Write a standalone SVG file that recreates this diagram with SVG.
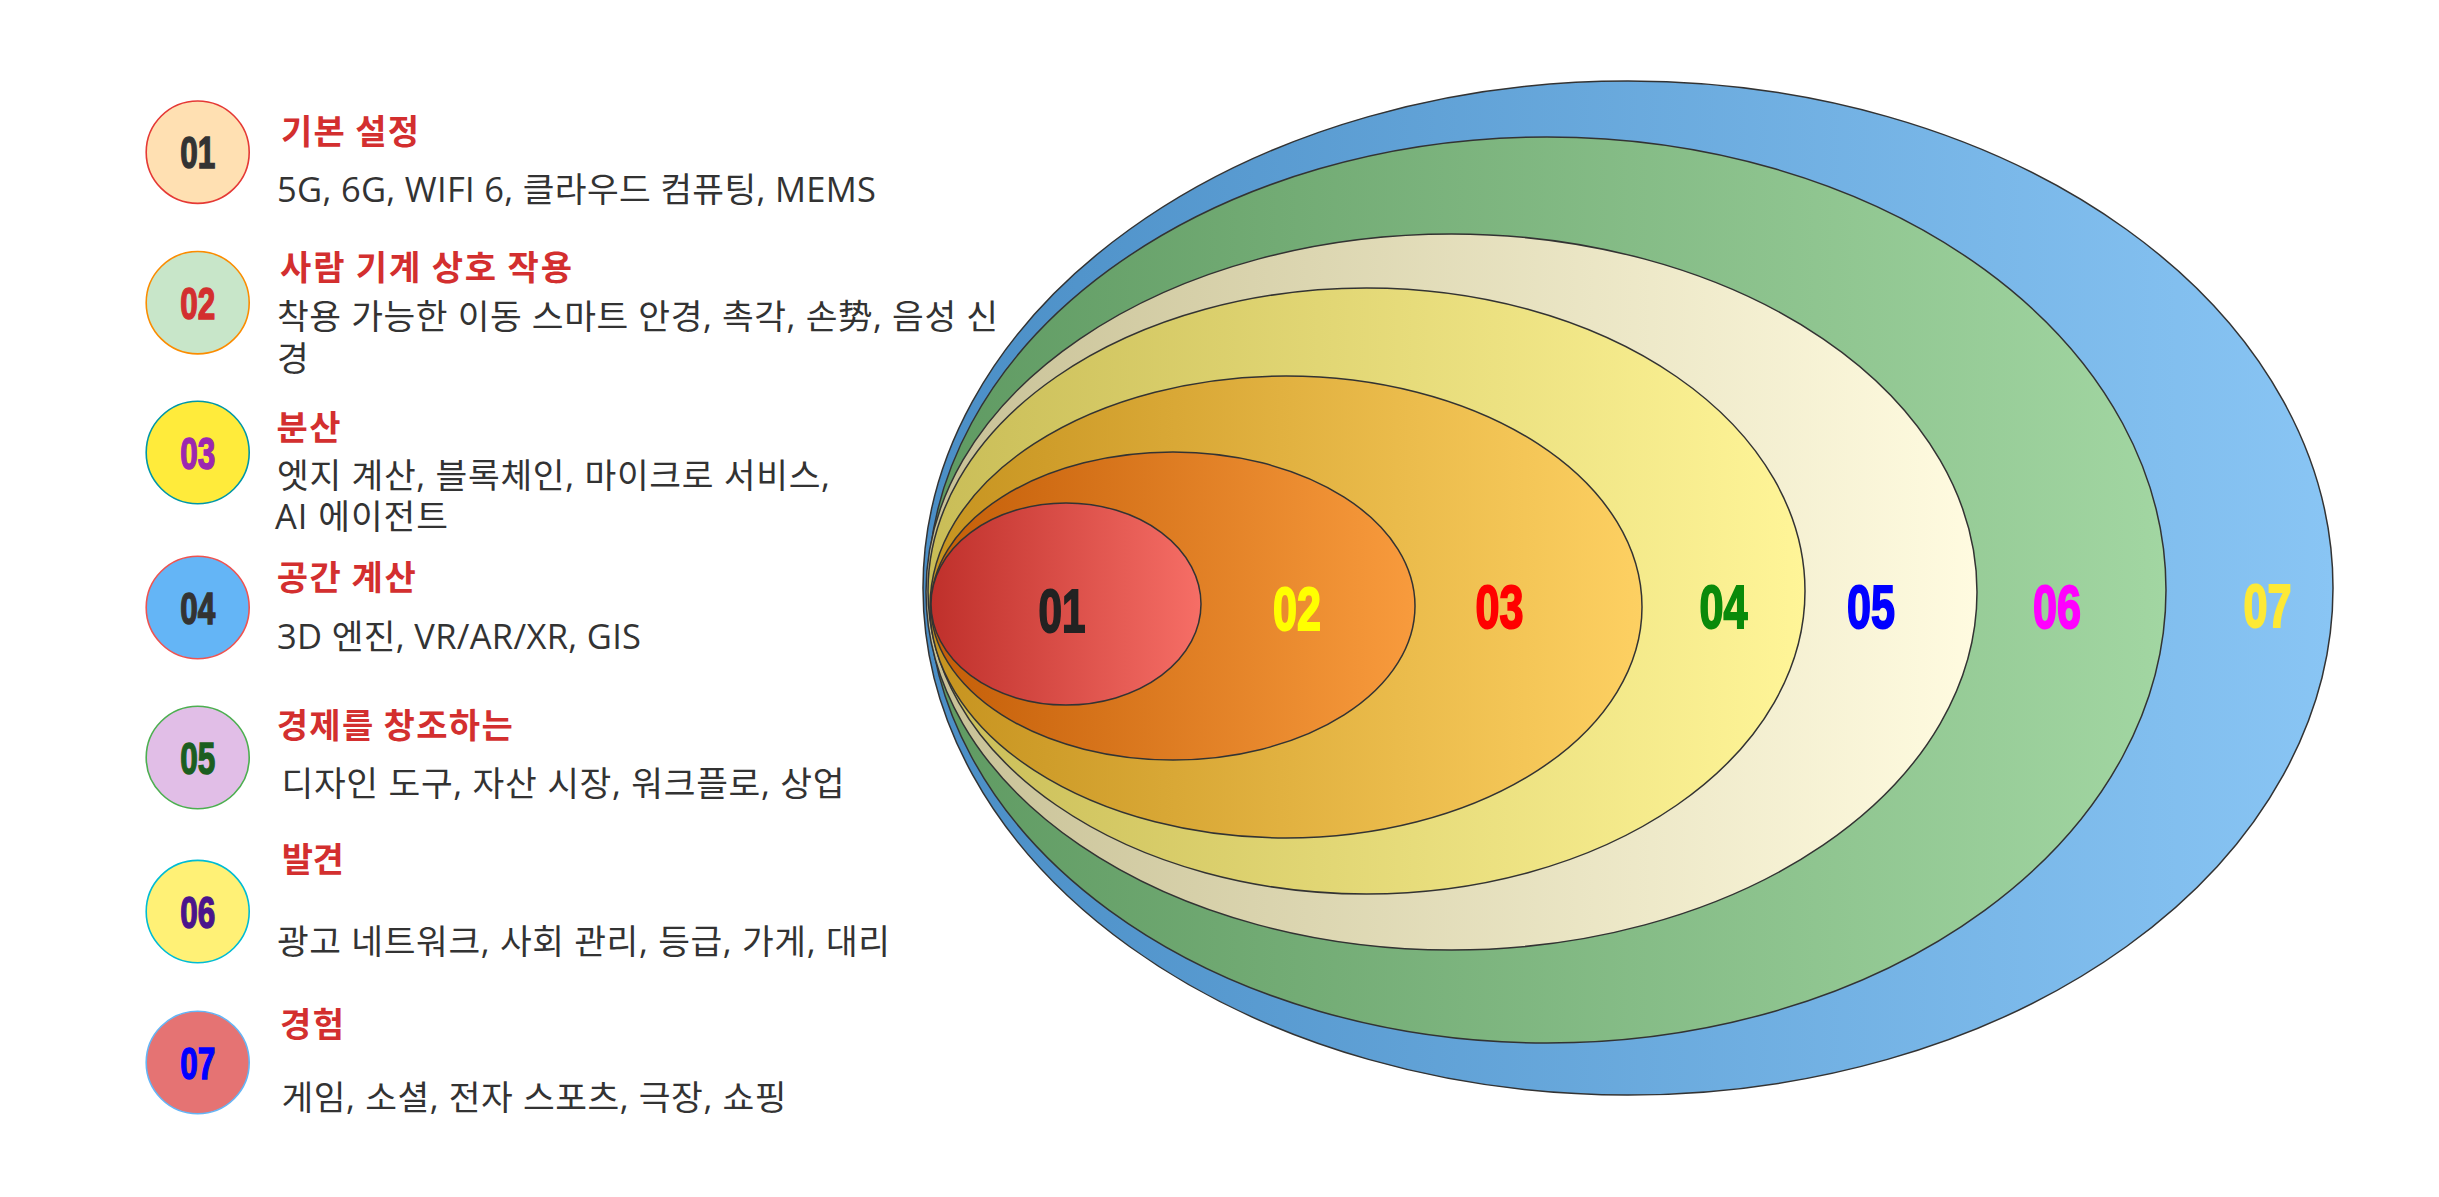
<svg xmlns="http://www.w3.org/2000/svg" width="2439" height="1197" viewBox="0 0 2439 1197">
<defs>
<linearGradient id="g7" x1="0" y1="0" x2="1" y2="0"><stop offset="0" stop-color="#4a8ec6"/><stop offset="1" stop-color="#89c5f4"/></linearGradient>
<linearGradient id="g6" x1="0" y1="0" x2="1" y2="0"><stop offset="0" stop-color="#5f9a62"/><stop offset="1" stop-color="#a2d6a2"/></linearGradient>
<linearGradient id="g5" x1="0" y1="0" x2="1" y2="0"><stop offset="0" stop-color="#c8c196"/><stop offset="1" stop-color="#fffbe0"/></linearGradient>
<linearGradient id="g4" x1="0" y1="0" x2="1" y2="0"><stop offset="0" stop-color="#c9bd57"/><stop offset="1" stop-color="#fff598"/></linearGradient>
<linearGradient id="g3" x1="0" y1="0" x2="1" y2="0"><stop offset="0" stop-color="#c6931f"/><stop offset="1" stop-color="#fdd062"/></linearGradient>
<linearGradient id="g2" x1="0" y1="0" x2="1" y2="0"><stop offset="0" stop-color="#c45e08"/><stop offset="1" stop-color="#f89b3d"/></linearGradient>
<linearGradient id="g1" x1="0" y1="0" x2="1" y2="0"><stop offset="0" stop-color="#bf302b"/><stop offset="1" stop-color="#f66e66"/></linearGradient>
</defs>
<style>
.ring{stroke:#333;stroke-width:1.5}
.dot{stroke-width:1.6}
.num{font-family:"Liberation Sans",Arial,sans-serif;font-weight:bold;font-size:45px;text-anchor:middle}
.big{font-family:"Liberation Sans",Arial,sans-serif;font-weight:bold;font-size:61px;text-anchor:middle}
.title{font-family:"Noto Sans CJK KR",sans-serif;font-weight:bold;font-size:34px;fill:#d32f2f}
.body{font-family:"Open Sans","Noto Sans CJK KR",sans-serif;font-size:34.5px;fill:#333}
</style>
<rect width="2439" height="1197" fill="#ffffff"/>

<g id="rings">
<g id="ring7"><ellipse class="ring" cx="1628" cy="588" rx="705" ry="507" fill="url(#g7)"/></g>
<g id="ring6"><ellipse class="ring" cx="1547" cy="590" rx="619" ry="453" fill="url(#g6)"/></g>
<g id="ring5"><ellipse class="ring" cx="1451.5" cy="592" rx="525.5" ry="358" fill="url(#g5)"/></g>
<g id="ring4"><ellipse class="ring" cx="1366.5" cy="591" rx="438.5" ry="303" fill="url(#g4)"/></g>
<g id="ring3"><ellipse class="ring" cx="1286" cy="607" rx="356" ry="231" fill="url(#g3)"/></g>
<g id="ring2"><ellipse class="ring" cx="1173" cy="606" rx="242" ry="154" fill="url(#g2)"/></g>
<g id="ring1"><ellipse class="ring" cx="1066" cy="604" rx="135" ry="101" fill="url(#g1)"/></g>
</g>

<g id="ring-labels">
<text class="big" x="1062" y="632" textLength="47" lengthAdjust="spacingAndGlyphs" fill="#222" stroke="#222" stroke-width="2">01</text>
<text class="big" x="1297" y="630" textLength="48" lengthAdjust="spacingAndGlyphs" fill="#ffff00" stroke="#ffff00" stroke-width="2">02</text>
<text class="big" x="1499.5" y="628" textLength="48" lengthAdjust="spacingAndGlyphs" fill="#ff0000" stroke="#ff0000" stroke-width="2">03</text>
<text class="big" x="1723.5" y="628" textLength="48" lengthAdjust="spacingAndGlyphs" fill="#0a8a0a" stroke="#0a8a0a" stroke-width="2">04</text>
<text class="big" x="1871" y="628" textLength="48" lengthAdjust="spacingAndGlyphs" fill="#0000ff" stroke="#0000ff" stroke-width="2">05</text>
<text class="big" x="2057" y="628" textLength="48" lengthAdjust="spacingAndGlyphs" fill="#ff00ff" stroke="#ff00ff" stroke-width="2">06</text>
<text class="big" x="2267.5" y="627" textLength="48" lengthAdjust="spacingAndGlyphs" fill="#fde936" stroke="#fde936" stroke-width="2">07</text>
</g>

<g id="item1">
<ellipse class="dot" cx="197.7" cy="152.2" rx="51.5" ry="51.2" fill="#ffe0b2" stroke="#e53935"/>
<text class="num" x="197.7" y="168.3" textLength="35" lengthAdjust="spacingAndGlyphs" fill="#333" stroke="#333" stroke-width="1.5">01</text>
<text class="title" x="281" y="144" textLength="138" lengthAdjust="spacing">기본 설정</text>
<text class="body" x="277" y="202" textLength="599" lengthAdjust="spacing">5G, 6G, WIFI 6, 클라우드 컴퓨팅, MEMS</text>
</g>

<g id="item2">
<ellipse class="dot" cx="197.7" cy="302.7" rx="51.5" ry="51.2" fill="#c8e6c9" stroke="#fb8c00"/>
<text class="num" x="197.7" y="318.8" textLength="35" lengthAdjust="spacingAndGlyphs" fill="#d32f2f" stroke="#d32f2f" stroke-width="1.5">02</text>
<text class="title" x="280" y="279.5" textLength="292" lengthAdjust="spacing">사람 기계 상호 작용</text>
<text class="body" x="277" y="329" textLength="721" lengthAdjust="spacing">착용 가능한 이동 스마트 안경, 촉각, 손势, 음성 신</text>
<text class="body" x="277" y="371">경</text>
</g>

<g id="item3">
<ellipse class="dot" cx="197.7" cy="452.5" rx="51.5" ry="51.2" fill="#ffeb3b" stroke="#0097a7"/>
<text class="num" x="197.7" y="468.6" textLength="35" lengthAdjust="spacingAndGlyphs" fill="#9c27b0" stroke="#9c27b0" stroke-width="1.5">03</text>
<text class="title" x="276.5" y="439.5" textLength="64" lengthAdjust="spacing">분산</text>
<text class="body" x="277" y="488" textLength="553" lengthAdjust="spacing">엣지 계산, 블록체인, 마이크로 서비스,</text>
<text class="body" x="275" y="529" textLength="173" lengthAdjust="spacing">AI 에이전트</text>
</g>

<g id="item4">
<ellipse class="dot" cx="197.7" cy="607.5" rx="51.5" ry="51.2" fill="#64b5f6" stroke="#ef5350"/>
<text class="num" x="197.7" y="623.6" textLength="35" lengthAdjust="spacingAndGlyphs" fill="#333" stroke="#333" stroke-width="1.5">04</text>
<text class="title" x="276.7" y="589.5" textLength="139" lengthAdjust="spacing">공간 계산</text>
<text class="body" x="277" y="649" textLength="364" lengthAdjust="spacing">3D 엔진, VR/AR/XR, GIS</text>
</g>

<g id="item5">
<ellipse class="dot" cx="197.7" cy="757.5" rx="51.5" ry="51.2" fill="#e1bee7" stroke="#4caf50"/>
<text class="num" x="197.7" y="773.6" textLength="35" lengthAdjust="spacingAndGlyphs" fill="#1b5e20" stroke="#1b5e20" stroke-width="1.5">05</text>
<text class="title" x="276.7" y="738" textLength="236" lengthAdjust="spacing">경제를 창조하는</text>
<text class="body" x="281.5" y="796" textLength="563" lengthAdjust="spacing">디자인 도구, 자산 시장, 워크플로, 상업</text>
</g>

<g id="item6">
<ellipse class="dot" cx="197.7" cy="911.6" rx="51.5" ry="51.2" fill="#fff176" stroke="#00bcd4"/>
<text class="num" x="197.7" y="927.7" textLength="35" lengthAdjust="spacingAndGlyphs" fill="#4a148c" stroke="#4a148c" stroke-width="1.5">06</text>
<text class="title" x="281.7" y="871.5" textLength="62" lengthAdjust="spacing">발견</text>
<text class="body" x="277" y="954" textLength="613" lengthAdjust="spacing">광고 네트워크, 사회 관리, 등급, 가게, 대리</text>
</g>

<g id="item7">
<ellipse class="dot" cx="197.7" cy="1062.5" rx="51.5" ry="51.2" fill="#e57373" stroke="#64b5f6"/>
<text class="num" x="197.7" y="1078.6" textLength="35" lengthAdjust="spacingAndGlyphs" fill="#0000ff" stroke="#0000ff" stroke-width="1.5">07</text>
<text class="title" x="280" y="1037" textLength="64" lengthAdjust="spacing">경험</text>
<text class="body" x="281.5" y="1110" textLength="505" lengthAdjust="spacing">게임, 소셜, 전자 스포츠, 극장, 쇼핑</text>
</g>
</svg>
